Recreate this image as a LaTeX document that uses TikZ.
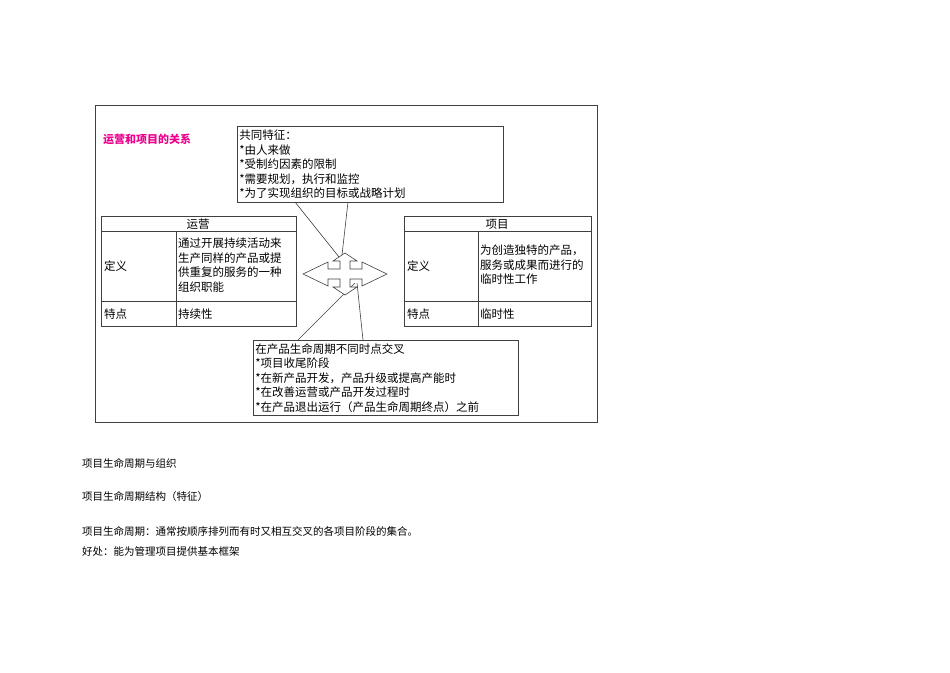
\documentclass[tikz,border=0pt]{standalone}
\usepackage{fontspec}
\setmainfont{Noto Sans CJK SC}
\begin{document}
\begin{tikzpicture}[x=1pt,y=-1pt,
  ln/.style={draw=black!75,line width=0.6pt},
  txt/.style={font=\fontsize{11.5}{14.5}\selectfont,inner sep=0pt,anchor=north west,align=left},
  low/.style={font=\fontsize{10.5}{12}\selectfont,inner sep=0pt,anchor=west}]
\useasboundingbox (0,0) rectangle (950,672);
\draw[ln] (95,105) rectangle (597,422);
\node[font=\bfseries\fontsize{11}{12}\selectfont,text=magenta,inner sep=0pt,anchor=west] (title) at (103,139) {运营和项目的关系};
% top callout
\node[ln,txt,minimum width=266pt,minimum height=76pt,inner sep=2pt,text width=262pt] (top) at (237,126) {共同特征：\\{*}由人来做\\{*}受制约因素的限制\\{*}需要规划，执行和监控\\{*}为了实现组织的目标或战略计划};
\coordinate (t1) at (339,257); \coordinate (t2) at (342,255);
\draw[ln] (295,202) -- (t1);
\draw[ln] (348,202) -- (t2);
% bottom callout
\node[ln,txt,minimum width=265pt,minimum height=75pt,inner sep=2pt,text width=261pt] (bot) at (253,340) {在产品生命周期不同时点交叉\\{*}项目收尾阶段\\{*}在新产品开发，产品升级或提高产能时\\{*}在改善运营或产品开发过程时\\{*}在产品退出运行（产品生命周期终点）之前};
\coordinate (b1) at (355,283); \coordinate (b2) at (357,283);
\draw[ln] (298,340) -- (b1);
\draw[ln] (363,340) -- (b2);
% cross arrow
\draw[ln,fill=white] (345,274) ++(17,-5) -- ++(0,-7) -- ++(25,12) -- ++(-25,12) -- ++(0,-7) -- ++(-12,0) -- ++(0,8) -- ++(7,0) -- ++(-12,8) -- ++(-12,-8) -- ++(7,0) -- ++(0,-8) -- ++(-12,0) -- ++(0,7) -- ++(-25,-12) -- ++(25,-12) -- ++(0,7) -- ++(12,0) -- ++(0,-8) -- ++(-7,0) -- ++(12,-8) -- ++(12,8) -- ++(-7,0) -- ++(0,8) -- cycle;
% left table
\draw[ln] (101,216) rectangle (296,326);
\draw[ln] (101,231) -- (296,231) (101,301) -- (296,301) (176,231) -- (176,326);
\node[txt,anchor=center] (lh) at (198,224) {运营};
\node[txt,anchor=west] (ld) at (104,266) {定义};
\node[txt] (ldv) at (178,238) {通过开展持续活动来\\生产同样的产品或提\\供重复的服务的一种\\组织职能};
\node[txt,anchor=west] (lt) at (104,314) {特点};
\node[txt,anchor=west] (ltv) at (178,314) {持续性};
% right table
\draw[ln] (404,216) rectangle (591,326);
\draw[ln] (404,231) -- (591,231) (404,301) -- (591,301) (478,231) -- (478,326);
\node[txt,anchor=center] (rh) at (497,224) {项目};
\node[txt,anchor=west] (rd) at (407,266) {定义};
\node[txt] (rdv) at (480,245) {为创造独特的产品，\\服务或成果而进行的\\临时性工作};
\node[txt,anchor=west] (rt) at (407,314) {特点};
\node[txt,anchor=west] (rtv) at (480,314) {临时性};
% lower text
\node[low] (p1) at (82,463) {项目生命周期与组织};
\node[low] (p2) at (82,497) {项目生命周期结构（特征）};
\node[low] (p3) at (82,531) {项目生命周期：通常按顺序排列而有时又相互交叉的各项目阶段的集合。};
\node[low] (p4) at (82,551) {好处：能为管理项目提供基本框架};
\end{tikzpicture}
\end{document}
